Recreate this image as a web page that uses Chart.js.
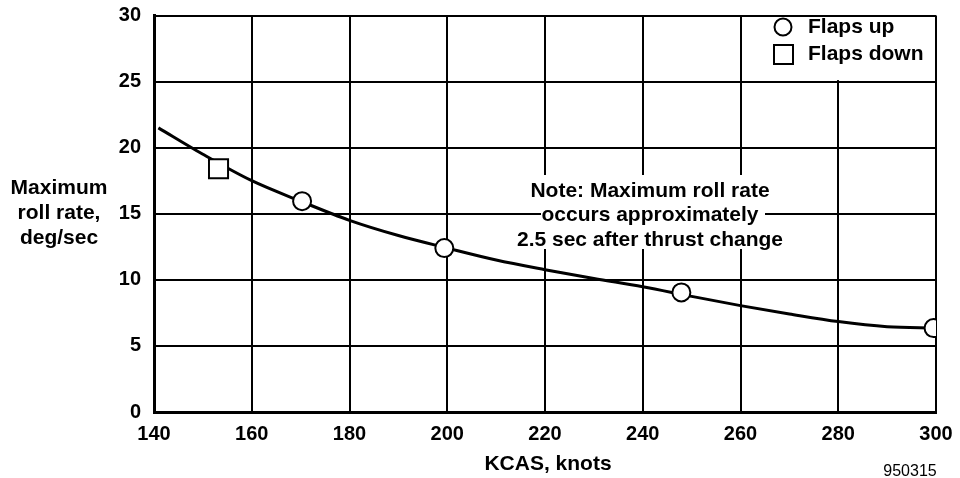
<!DOCTYPE html>
<html>
<head>
<meta charset="utf-8">
<script src="https://cdn.jsdelivr.net/npm/chart.js@4.4.1/dist/chart.umd.min.js"></script>
<style>
  html, body { margin: 0; padding: 0; background: #fff; }
  #wrap { width: 960px; height: 478px; }
</style>
</head>
<body>
<div id="wrap"><canvas id="rollChart" width="960" height="478"></canvas></div>
<script>
// fitted curve
const curveX = [140.9, 150, 160, 170, 180, 190, 200, 210, 220, 230, 240, 250, 260, 270, 280, 290, 300];
const curveY = [21.5, 19.5, 17.5, 15.95, 14.5, 13.35, 12.4, 11.5, 10.77, 10.1, 9.48, 8.75, 8.05, 7.42, 6.84, 6.45, 6.35];

// test points
const flapsUpX = [170.3, 199.4, 247.9, 299.5];
const flapsUpY = [15.95, 12.4, 9.05, 6.35];
const flapsDownX = [153.2];
const flapsDownY = [18.4];

const xTicks = [140, 160, 180, 200, 220, 240, 260, 280, 300];
const yTicks = [0, 5, 10, 15, 20, 25, 30];

const yTitle = ['Maximum', 'roll rate,', 'deg/sec'];
const xTitle = 'KCAS, knots';
const noteLines = ['Note: Maximum roll rate', 'occurs approximately', '2.5 sec after thrust change'];
const figNumber = '950315';

const pts = (xs, ys) => xs.map((x, i) => ({ x: x, y: ys[i] }));
const boldFont = 'bold 21px "Liberation Sans", Arial, sans-serif';

const extras = {
    id: 'extras',
    beforeDatasetsDraw(chart) {
        const ctx = chart.ctx;
        const xs = chart.scales.x, ys = chart.scales.y;
        ctx.save();
        ctx.fillStyle = '#fff';
        // box behind the note
        ctx.fillRect(541, 175, 224, 74);
        // legend cell (260..300, 25..30)
        const l = xs.getPixelForValue(260) + 1.5, r = xs.getPixelForValue(300) - 1.5;
        const t = ys.getPixelForValue(30) + 1.5, b = ys.getPixelForValue(25) - 1.5;
        ctx.fillRect(l, t, r - l, b - t);
        ctx.restore();
    },
    afterDraw(chart) {
        const ctx = chart.ctx;
        ctx.save();
        ctx.fillStyle = '#000';
        ctx.font = boldFont;
        ctx.textAlign = 'center';
        ctx.textBaseline = 'middle';
        yTitle.forEach((s, i) => ctx.fillText(s, 59, 188 + i * 25));
        noteLines.forEach((s, i) => ctx.fillText(s, 650, 191 + i * 24.5));
        ctx.fillText(xTitle, 548, 464);
        ctx.font = '16px "Liberation Sans", Arial, sans-serif';
        ctx.fillText(figNumber, 910, 472);

        // legend
        const ds = chart.data.datasets;
        ctx.strokeStyle = '#000';
        ctx.lineWidth = 2;
        ctx.beginPath();
        ctx.arc(783, 27, 8.5, 0, Math.PI * 2);
        ctx.stroke();
        ctx.strokeRect(774, 45, 19, 19);
        ctx.font = boldFont;
        ctx.textAlign = 'left';
        ctx.fillText(ds[1].label, 808, 27);
        ctx.fillText(ds[2].label, 808, 54);
        ctx.restore();
    }
};

const ctx = document.getElementById('rollChart').getContext('2d');

new Chart(ctx, {
    type: 'scatter',
    data: {
        datasets: [{
            label: 'curve',
            data: pts(curveX, curveY),
            showLine: true,
            borderColor: '#000',
            borderWidth: 3,
            pointRadius: 0,
            cubicInterpolationMode: 'monotone',
            order: 2
        }, {
            label: 'Flaps up',
            data: pts(flapsUpX, flapsUpY),
            pointStyle: 'circle',
            pointRadius: 9,
            pointBorderWidth: 2,
            pointBorderColor: '#000',
            pointBackgroundColor: '#fff',
            order: 1
        }, {
            label: 'Flaps down',
            data: pts(flapsDownX, flapsDownY),
            pointStyle: 'rect',
            pointRadius: 13.5,
            pointBorderWidth: 2,
            pointBorderColor: '#000',
            pointBackgroundColor: '#fff',
            order: 1
        }]
    },
    options: {
        responsive: false,
        animation: false,
        layout: { padding: { top: 13, right: 24, left: 0, bottom: 0 } },
        plugins: {
            legend: { display: false },
            tooltip: { enabled: false }
        },
        scales: {
            x: {
                type: 'linear',
                min: 140,
                max: 300,
                afterBuildTicks: s => { s.ticks = xTicks.map(v => ({ value: v })); },
                afterFit: s => { s.height = 66; s.paddingLeft = 0; s.paddingRight = 0; },
                grid: { color: '#000', lineWidth: 2, drawTicks: false },
                border: { color: '#000', width: 3 },
                ticks: { color: '#000', padding: 10, maxRotation: 0, font: { family: '"Liberation Sans", Arial', size: 20, weight: 'bold' } }
            },
            y: {
                type: 'linear',
                min: 0,
                max: 30,
                afterBuildTicks: s => { s.ticks = yTicks.map(v => ({ value: v })); },
                afterFit: s => { s.width = 154; s.paddingTop = 0; s.paddingBottom = 0; },
                grid: { color: '#000', lineWidth: 2, drawTicks: false },
                border: { color: '#000', width: 3 },
                ticks: { color: '#000', padding: 13, font: { family: '"Liberation Sans", Arial', size: 20, weight: 'bold' } }
            }
        }
    },
    plugins: [extras]
});
</script>
</body>
</html>
